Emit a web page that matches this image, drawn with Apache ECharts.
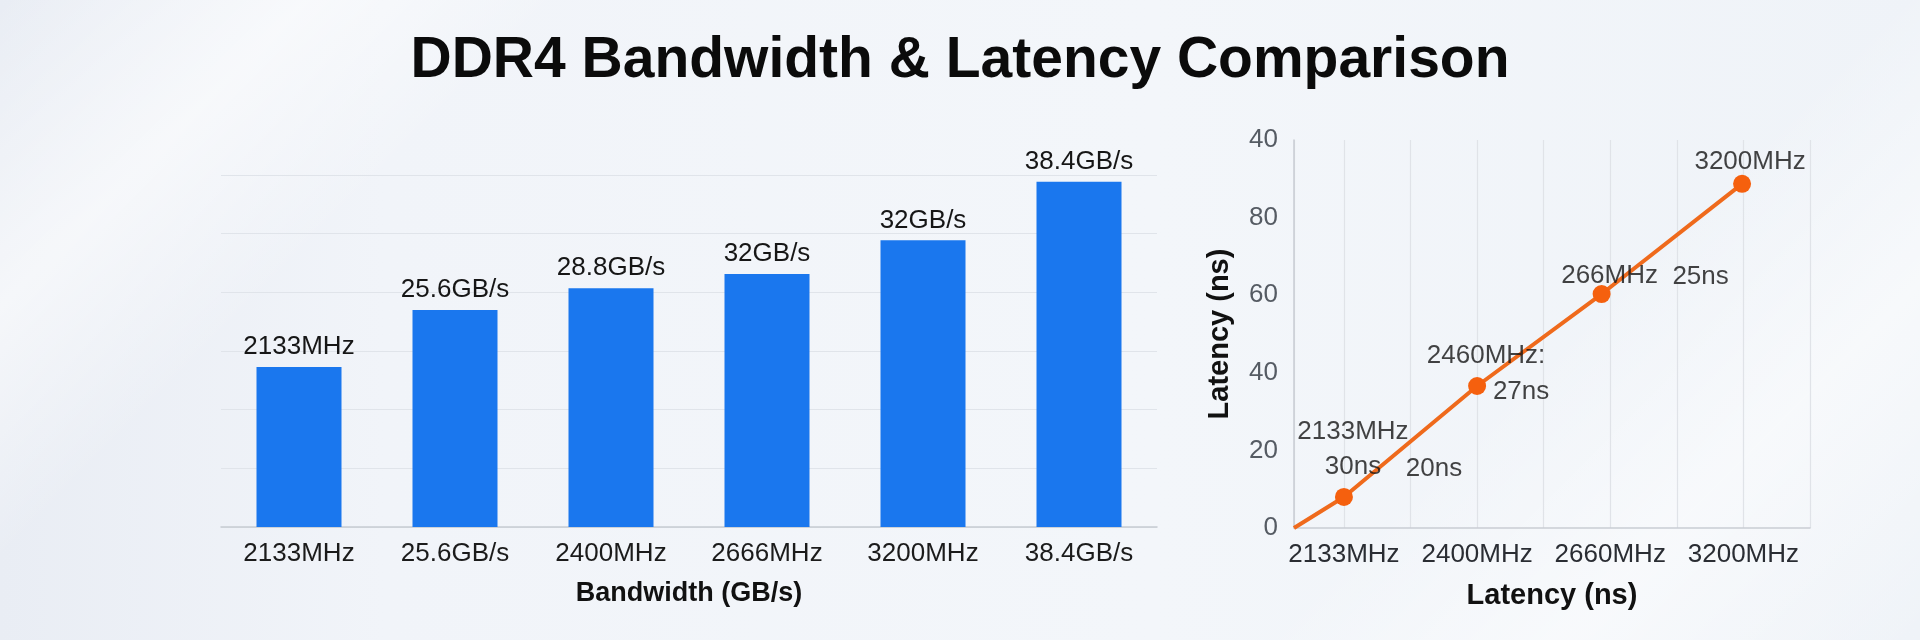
<!DOCTYPE html>
<html>
<head>
<meta charset="utf-8">
<script src="https://cdn.jsdelivr.net/npm/echarts@6/dist/echarts.min.js"></script>
<style>
html,body{margin:0;padding:0;width:1920px;height:640px;overflow:hidden;}
body{background:
  linear-gradient(135deg, rgba(255,255,255,0) 0%, rgba(255,255,255,0.55) 12%, rgba(255,255,255,0) 22%),
  linear-gradient(315deg, rgba(255,255,255,0) 0%, rgba(255,255,255,0.5) 14%, rgba(255,255,255,0) 26%),
  linear-gradient(90deg, #e9edf4 0%, #f1f4f9 20%, #f3f6fa 60%, #eff3f8 100%);}
#chart{width:1920px;height:640px;}
</style>
</head>
<body>
<div id="chart"></div>
<script>
const titleText = 'DDR4 Bandwidth & Latency Comparison';

// Left: bandwidth bars
const bwCategories = ['2133MHz', '25.6GB/s', '2400MHz', '2666MHz', '3200MHz', '38.4GB/s'];
const bwValues = [19.1, 25.9, 28.5, 30.2, 34.2, 41.2];
const bwBarLabels = ['2133MHz', '25.6GB/s', '28.8GB/s', '32GB/s', '32GB/s', '38.4GB/s'];
const bwAxisName = 'Bandwidth (GB/s)';

// Right: latency line
const latOrigin = [-0.75, 0];
const latX = [0, 2, 3.87, 5.98];
const latValues = [8.0, 36.6, 60.3, 88.7];
const latYTickLabels = ['0', '20', '40', '60', '80', '40'];
const latXLabelPos = [0, 2, 4, 6];
const latXLabelText = ['2133MHz', '2400MHz', '2660MHz', '3200MHz'];
const latAxisName = 'Latency (ns)';
const latPointLabelsA = ['2133MHz', '2460MHz:', '266MHz', '3200MHz'];
const latPointLabelsB = ['30ns', '27ns', '25ns'];
const latPointLabelsC = ['20ns'];

const FONT = '"Liberation Sans", Arial, sans-serif';
const offsA = [[9, -65], [9, -30], [8, -18], [8, -22]];
const offsB = [[9, -30], [44, 6], [99, -17]];
const offsC = [[90, -28]];

const latPoints = latX.map((x, i) => [x, latValues[i]]);
const lineData = [{ value: latOrigin, symbol: 'none' }].concat(latPoints.map(p => ({ value: p })));

function labelSeries(texts, offs) {
  return {
    type: 'scatter', xAxisIndex: 1, yAxisIndex: 1, symbolSize: 0, z: 5, silent: true,
    data: texts.map((t, i) => ({
      value: latPoints[i],
      label: { show: true, position: 'inside', offset: offs[i], formatter: t }
    })),
    label: { color: '#141414', fontSize: 26, fontFamily: FONT, align: 'center', verticalAlign: 'middle' }
  };
}

const chart = echarts.init(document.getElementById('chart'), null, { renderer: 'canvas' });
chart.setOption({
  backgroundColor: 'transparent',
  animation: false,
  title: {
    text: titleText, left: 'center', top: 28,
    textStyle: { fontSize: 57, fontWeight: 'bold', color: '#0b0b0b', fontFamily: FONT }
  },
  grid: [
    { left: 221, width: 936, top: 175, bottom: 113 },
    { left: 1294, right: 110, top: 140, bottom: 112 }
  ],
  xAxis: [
    {
      type: 'category', gridIndex: 0, data: bwCategories,
      axisLine: { lineStyle: { color: '#c6cbd2', width: 1.5 } },
      axisTick: { show: false },
      axisLabel: { fontSize: 26, color: '#1b1b1b', fontFamily: FONT, margin: 14 },
      name: bwAxisName, nameLocation: 'middle', nameGap: 53,
      nameTextStyle: { fontSize: 27, fontWeight: 'bold', color: '#111', fontFamily: FONT }
    },
    {
      type: 'value', gridIndex: 1, min: -0.75, max: 7, splitNumber: 8,
      axisLine: { onZero: false, lineStyle: { color: '#c9cdd3', width: 1.5 } },
      axisTick: { show: false },
      splitLine: { show: true, lineStyle: { color: '#e0e3e8', width: 1.2 } },
      axisLabel: {
        fontSize: 26, color: '#2a2d33', fontFamily: FONT, margin: 14,
        formatter: v => { const k = latXLabelPos.indexOf(Math.round(v * 100) / 100); return k >= 0 ? latXLabelText[k] : ''; }
      },
      name: latAxisName, nameLocation: 'middle', nameGap: 53,
      nameTextStyle: { fontSize: 29, fontWeight: 'bold', color: '#111', fontFamily: FONT }
    }
  ],
  yAxis: [
    {
      type: 'value', gridIndex: 0, min: 0, max: 42, interval: 7,
      axisLine: { show: false }, axisTick: { show: false }, axisLabel: { show: false },
      splitLine: { lineStyle: { color: '#e0e4ea', width: 1.2 } }
    },
    {
      type: 'value', gridIndex: 1, min: 0, max: 100, interval: 20,
      axisLine: { show: true, onZero: false, lineStyle: { color: '#c9cdd3', width: 1.5 } },
      axisTick: { show: false },
      splitLine: { show: false },
      axisLabel: {
        fontSize: 26, color: '#555b63', fontFamily: FONT, margin: 16,
        formatter: v => latYTickLabels[Math.round(v / 20)]
      },
      name: latAxisName, nameLocation: 'middle', nameGap: 60, nameRotate: 90,
      nameTextStyle: { fontSize: 29, fontWeight: 'bold', color: '#111', fontFamily: FONT }
    }
  ],
  series: [
    {
      type: 'bar', xAxisIndex: 0, yAxisIndex: 0, data: bwValues, barWidth: 85,
      itemStyle: { color: '#1a77ee' },
      label: {
        show: true, position: 'top', distance: 7, fontSize: 26, color: '#161616', fontFamily: FONT,
        formatter: p => bwBarLabels[p.dataIndex]
      }
    },
    {
      type: 'line', xAxisIndex: 1, yAxisIndex: 1, data: lineData,
      symbol: 'circle', symbolSize: 18,
      lineStyle: { color: '#ef6a1c', width: 4 },
      itemStyle: { color: '#f5600e' }
    },
    labelSeries(latPointLabelsA, offsA),
    labelSeries(latPointLabelsB, offsB),
    labelSeries(latPointLabelsC, offsC)
  ]
});
</script>
</body>
</html>
